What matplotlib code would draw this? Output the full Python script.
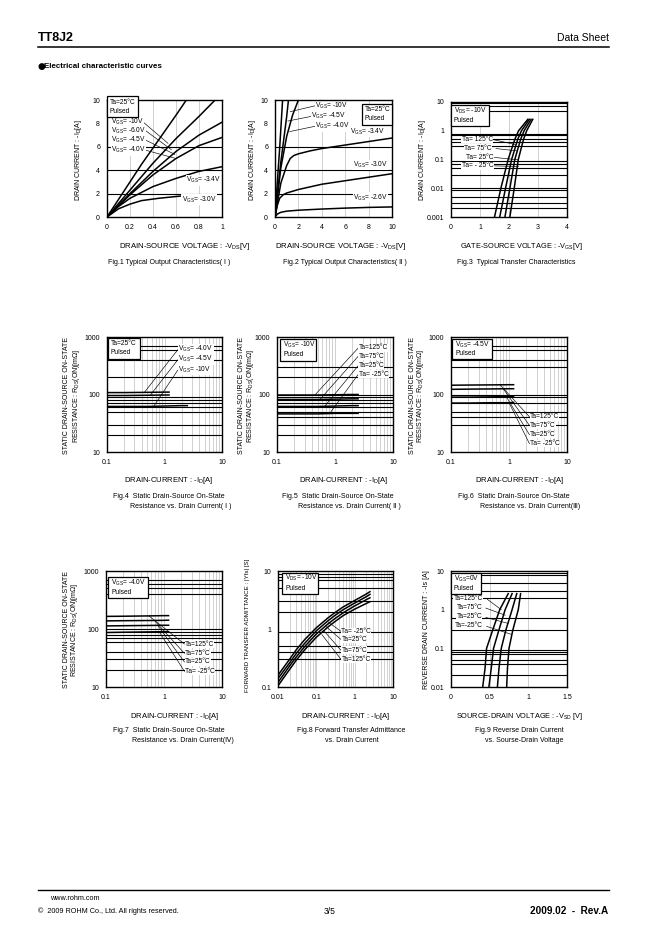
import matplotlib
matplotlib.use('Agg')
import matplotlib.pyplot as plt
from matplotlib.patches import Rectangle

plt.rcParams['font.family'] = ['Liberation Sans', 'DejaVu Sans']
plt.rcParams['mathtext.fontset'] = 'custom'
plt.rcParams['mathtext.rm'] = 'Liberation Sans'
plt.rcParams['mathtext.it'] = 'Liberation Sans:italic'
plt.rcParams['mathtext.bf'] = 'Liberation Sans:bold'
plt.rcParams['mathtext.default'] = 'regular'

# ------------------------------------------------------------------ data
# Fig.1  Typical output characteristics (I): -VDS [V] -> -ID [A]
f1_vgs_labels = ["-10V", "-6.0V", "-4.5V", "-4.0V", "-3.4V", "-3.0V"]
f1_x = [
    [0, 0.1, 0.2, 0.3, 0.4, 0.5, 0.6, 0.69],
    [0, 0.2, 0.4, 0.6, 0.8, 0.94],
    [0, 0.2, 0.4, 0.6, 0.8, 1.0],
    [0, 0.2, 0.4, 0.6, 0.8, 1.0],
    [0, 0.1, 0.2, 0.4, 0.6, 0.8, 1.0],
    [0, 0.1, 0.2, 0.3, 0.45, 0.65],
]
f1_y = [
    [0, 1.5, 3.0, 4.5, 5.9, 7.3, 8.7, 10.0],
    [0, 2.3, 4.6, 6.7, 8.6, 10.0],
    [0, 2.0, 3.9, 5.6, 7.0, 8.1],
    [0, 1.9, 3.6, 5.0, 6.1, 6.8],
    [0, 0.9, 1.6, 2.6, 3.3, 3.9, 4.3],
    [0, 0.7, 1.1, 1.4, 1.6, 1.8],
]

# Fig.2  Typical output characteristics (II)
f2_vgs_labels = ["-10V", "-4.5V", "-4.0V", "-3.4V", "-3.0V", "-2.6V"]
f2_x = [
    [0, 0.2, 0.4, 0.65],
    [0, 0.5, 1.0, 1.15],
    [0, 0.5, 1.0, 1.5, 2.0],
    [0, 0.5, 1.0, 1.3, 1.6, 2, 3, 4, 6, 8, 10],
    [0, 0.2, 0.4, 0.7, 1, 2, 4, 6, 8, 10],
    [0, 0.2, 0.5, 1, 2, 4, 6, 8, 10],
]
f2_y = [
    [0, 3.0, 5.9, 10.0],
    [0, 4.7, 8.6, 10.0],
    [0, 4.2, 6.9, 8.7, 10.0],
    [0, 2.9, 4.4, 5.0, 5.25, 5.4, 5.65, 5.85, 6.15, 6.45, 6.75],
    [0, 1.0, 1.6, 1.9, 2.05, 2.35, 2.8, 3.1, 3.4, 3.7],
    [0, 0.25, 0.4, 0.5, 0.58, 0.68, 0.76, 0.82, 0.86],
]

# Fig.3  Typical transfer characteristics: -VGS [V] vs -ID [A]
f3_ta = ["125°C", "75°C", "25°C", "- 25°C"]
f3_id = [0.001, 0.01, 0.1, 0.5, 1.0, 2.5]
f3_vgs = [
    [1.50, 1.72, 1.97, 2.20, 2.33, 2.65],
    [1.68, 1.88, 2.09, 2.30, 2.43, 2.70],
    [1.86, 2.03, 2.20, 2.40, 2.52, 2.76],
    [2.03, 2.18, 2.32, 2.50, 2.61, 2.82],
]

# Fig.4  RDS(on) vs ID, Ta=25°C, various VGS
f4_vgs_labels = ["-4.0V", "-4.5V", "-10V"]
f4_x = [
    [0.1, 0.2, 0.5, 1.0, 1.2],
    [0.1, 0.2, 0.5, 1.0, 1.2],
    [0.1, 0.2, 0.5, 1.0, 2.0, 2.5],
]
f4_y = [
    [108, 108, 109, 110, 110],
    [96, 96, 97, 98, 98],
    [62, 62, 62, 63, 64, 64],
]

# Fig.5  RDS(on) vs ID, VGS=-10V
f5_ta = ["125°C", "75°C", "25°C", " -25°C"]
f5_x = [0.1, 0.2, 0.5, 1.0, 2.0, 2.5]
f5_y = [
    [98, 98, 98, 99, 100, 100],
    [82, 82, 82, 83, 84, 84],
    [62, 62, 62, 63, 64, 64],
    [46, 46, 46, 47, 47, 47],
]

# Fig.6  RDS(on) vs ID, VGS=-4.5V
f6_ta = ["125°C", "75°C", "25°C", " -25°C"]
f6_x = [0.1, 0.2, 0.5, 1.0, 1.2]
f6_y = [
    [145, 146, 147, 148, 148],
    [123, 124, 125, 126, 126],
    [90, 90, 91, 92, 92],
    [71, 71, 72, 72, 73],
]

# Fig.7  RDS(on) vs ID, VGS=-4.0V
f7_ta = ["125°C", "75°C", "25°C", " -25°C"]
f7_x = [0.1, 0.2, 0.5, 1.0, 1.2]
f7_y = [
    [165, 166, 168, 170, 170],
    [138, 139, 140, 141, 142],
    [113, 114, 115, 116, 116],
    [87, 88, 89, 90, 90],
]

# Fig.8  |Yfs| vs ID
f8_ta = [" -25°C", "25°C", "75°C", "125°C"]
f8_x = [0.01, 0.02, 0.03, 0.05, 0.1, 0.2, 0.3, 0.5, 1.0, 2.0, 2.5]
f8_y = [
    [0.16, 0.30, 0.44, 0.66, 1.05, 1.55, 1.90, 2.40, 3.10, 4.00, 4.40],
    [0.14, 0.26, 0.38, 0.57, 0.93, 1.38, 1.70, 2.15, 2.80, 3.60, 3.95],
    [0.12, 0.23, 0.33, 0.50, 0.82, 1.22, 1.50, 1.90, 2.50, 3.20, 3.45],
    [0.105, 0.20, 0.29, 0.44, 0.72, 1.08, 1.33, 1.70, 2.20, 2.75, 2.95],
]

# Fig.9  Reverse drain current vs -VSD
f9_ta = ["125°C", "75°C", "25°C", "-25°C"]
f9_is = [0.01, 0.03, 0.1, 0.3, 1.0, 2.6]
f9_vsd = [
    [0.41, 0.44, 0.46, 0.54, 0.63, 0.74],
    [0.49, 0.52, 0.55, 0.62, 0.70, 0.79],
    [0.60, 0.62, 0.65, 0.71, 0.79, 0.85],
    [0.72, 0.73, 0.75, 0.80, 0.87, 0.90],
]

# tick labels
lin1_xt = [0, 0.2, 0.4, 0.6, 0.8, 1.0]
lin1_xl = ["0", "0.2", "0.4", "0.6", "0.8", "1"]
lin10_t = [0, 2, 4, 6, 8, 10]
lin10_l = ["0", "2", "4", "6", "8", "10"]
f3_xt = [0, 1, 2, 3, 4]
f3_xl = ["0", "1", "2", "3", "4"]
f3_yt = [0.001, 0.01, 0.1, 1, 10]
f3_yl = ["0.001", "0.01", "0.1", "1", "10"]
r_xt = [0.1, 1, 10]
r_xl = ["0.1", "1", "10"]
r_yt = [10, 100, 1000]
r_yl = ["10", "100", "1000"]
f8_xt = [0.01, 0.1, 1, 10]
f8_xl = ["0.01", "0.1", "1", "10"]
f8_yt = [0.1, 1, 10]
f8_yl = ["0.1", "1", "10"]
f9_xt = [0, 0.5, 1, 1.5]
f9_xl = ["0", "0.5", "1", "1.5"]
f9_yt = [0.01, 0.1, 1, 10]
f9_yl = ["0.01", "0.1", "1", "10"]

# ------------------------------------------------------------------ drawing
W, H = 662, 936
fig = plt.figure(figsize=(W / 100, H / 100), dpi=100)
FS = 4.8      # annotation text
TFS = 5.0     # tick labels
LFS = 5.0     # axis labels / captions
LW = 1.1
GRAY = '#c4c4c4'


def logminor(lo, hi):
    out = []
    e = lo
    while 10 ** e < 10 ** hi:
        for k in range(1, 10):
            v = k * 10 ** e
            if 10 ** lo < v < 10 ** hi:
                out.append(v)
        e += 1
    return out


def make_axes(box_px, xscale, yscale, xlim, ylim, xt, xl, yt, yl, hl, vl):
    l, t, r, b = box_px
    ax = fig.add_axes([l / W, 1 - b / H, (r - l) / W, (b - t) / H])
    ax.set_xscale(xscale)
    ax.set_yscale(yscale)
    ax.set_xlim(xlim)
    ax.set_ylim(ylim)
    ax.set_xticks(xt)
    ax.set_xticklabels(xl)
    ax.set_yticks(yt)
    ax.set_yticklabels(yl)
    ax.minorticks_off()
    ax.tick_params(length=0, pad=5, labelsize=TFS)
    for v in vl:
        ax.axvline(v, color=GRAY, lw=0.55, zorder=1)
    for h in hl:
        ax.axhline(h, color='black', lw=0.8, zorder=1)
    for s in ax.spines.values():
        s.set_linewidth(1.0)
        s.set_zorder(7)
    return ax


def note_box(ax, x0, y0, x1, y1, l1, l2):
    ax.add_patch(Rectangle((x0, y0), x1 - x0, y1 - y0, transform=ax.transAxes,
                           fc='white', ec='black', lw=0.9, zorder=8, clip_on=False))
    hgt = y1 - y0
    ax.text(x0 + 0.025, y1 - 0.27 * hgt, l1, transform=ax.transAxes, fontsize=FS,
            va='center', ha='left', zorder=9)
    ax.text(x0 + 0.025, y1 - 0.72 * hgt, l2, transform=ax.transAxes, fontsize=FS,
            va='center', ha='left', zorder=9)


def label(ax, x, y, s, ha='left'):
    ax.text(x, y, s, fontsize=FS, va='center', ha=ha, zorder=6,
            bbox=dict(fc='white', ec='none', pad=0.2))


def leader(ax, p, q):
    ax.plot([p[0], q[0]], [p[1], q[1]], color='black', lw=0.45, zorder=4)


def ftext(x, y, s, **kw):
    fig.text(x / W, 1 - y / H, s, **kw)


def vgs(s):
    return r"V$_{GS}$= " + s


ROW1 = (100, 217)
ROW2 = (337, 452)
ROW3 = (571, 687)

# ---- Fig.1
ax = make_axes((107, ROW1[0], 222, ROW1[1]), 'linear', 'linear', (0, 1), (0, 10),
               lin1_xt, lin1_xl, lin10_t, lin10_l, [2, 4, 6], [0.2, 0.4, 0.6, 0.8])
for xs, ys in zip(f1_x, f1_y):
    ax.plot(xs, ys, color='black', lw=LW, zorder=3, clip_on=True)
for s, (x, y) in zip(f1_vgs_labels[:4], [(0.035, 8.15), (0.035, 7.35), (0.035, 6.55), (0.035, 5.7)]):
    label(ax, x, y, vgs(s))
leader(ax, (0.31, 8.15), (0.53, 6.3))
leader(ax, (0.34, 7.35), (0.56, 5.75))
leader(ax, (0.34, 6.55), (0.59, 5.35))
leader(ax, (0.34, 5.7), (0.60, 5.0))
label(ax, 0.69, 3.15, vgs(f1_vgs_labels[4]))
label(ax, 0.65, 1.5, vgs(f1_vgs_labels[5]))
note_box(ax, 0.0, 0.855, 0.27, 1.03, "Ta=25°C", "Pulsed")

# ---- Fig.2
ax = make_axes((275, ROW1[0], 392, ROW1[1]), 'linear', 'linear', (0, 10), (0, 10),
               lin10_t, lin10_l, lin10_t, lin10_l, [2, 4, 6], [2, 4, 6, 8])
for xs, ys in zip(f2_x, f2_y):
    ax.plot(xs, ys, color='black', lw=LW, zorder=3)
for s, (x, y) in zip(f2_vgs_labels, [(3.45, 9.5), (3.1, 8.6), (3.45, 7.75),
                                     (6.45, 7.3), (6.65, 4.45), (6.65, 1.65)]):
    label(ax, x, y, vgs(s))
leader(ax, (3.4, 9.5), (1.3, 9.0))
leader(ax, (3.1, 8.6), (1.1, 8.2))
leader(ax, (3.4, 7.75), (1.25, 7.3))
note_box(ax, 0.74, 0.79, 1.0, 0.966, "Ta=25°C", "Pulsed")

# ---- Fig.3
ax = make_axes((451, 102, 567, ROW1[1]), 'linear', 'log', (0, 4), (0.001, 10),
               f3_xt, f3_xl, f3_yt, f3_yl,
               [0.002, 0.003, 0.005, 0.009, 0.01, 0.03, 0.05, 0.07, 0.09,
                0.3, 0.4, 0.5, 0.7, 0.8, 5, 7, 9], [1, 2, 3])
for xs in f3_vgs:
    ax.plot(xs, f3_id, color='black', lw=LW, zorder=3)
for s, (x, y) in zip(f3_ta, [(0.37, 0.5), (0.46, 0.25), (0.52, 0.12), (0.37, 0.06)]):
    label(ax, x, y, "Ta= " + s)
leader(ax, (1.5, 0.48), (2.22, 0.33))
leader(ax, (1.55, 0.24), (2.27, 0.2))
leader(ax, (1.5, 0.118), (2.3, 0.098))
leader(ax, (1.5, 0.06), (2.33, 0.057))
note_box(ax, 0.0, 0.787, 0.33, 0.977, r"V$_{DS}$= -10V", "Pulsed")

r_vl = logminor(-1, 1)

# ---- Fig.4
ax = make_axes((107, ROW2[0], 222, ROW2[1]), 'log', 'log', (0.1, 10), (10, 1000),
               r_xt, r_xl, r_yt, r_yl,
               [20, 30, 50, 60, 70, 80, 90, 200, 400, 600, 700], r_vl)
for xs, ys in zip(f4_x, f4_y):
    ax.plot(xs, ys, color='black', lw=LW, zorder=3)
for s, y in zip(f4_vgs_labels, [610, 410, 270]):
    label(ax, 1.75, y, vgs(s))
leader(ax, (1.7, 600), (0.45, 110))
leader(ax, (1.7, 400), (0.57, 98))
leader(ax, (1.7, 265), (0.66, 64))
note_box(ax, 0.007, 0.813, 0.29, 0.991, "Ta=25°C", "Pulsed")

# ---- Fig.5
ax = make_axes((277, ROW2[0], 393, ROW2[1]), 'log', 'log', (0.1, 10), (10, 1000),
               r_xt, r_xl, r_yt, r_yl,
               [20, 30, 40, 50, 60, 70, 80, 90, 100, 200, 300], r_vl)
for ys in f5_y:
    ax.plot(f5_x, ys, color='black', lw=LW, zorder=3)
for s, y in zip(f5_ta, [650, 465, 320, 225]):
    label(ax, 2.55, y, "Ta=" + s)
leader(ax, (2.5, 640), (0.45, 98))
leader(ax, (2.5, 460), (0.55, 82))
leader(ax, (2.5, 315), (0.66, 62))
leader(ax, (2.5, 222), (0.8, 46))
note_box(ax, 0.03, 0.795, 0.34, 0.98, r"V$_{GS}$= -10V", "Pulsed")

# ---- Fig.6
ax = make_axes((451, ROW2[0], 567, ROW2[1]), 'log', 'log', (0.1, 10), (10, 1000),
               r_xt, r_xl, r_yt, r_yl,
               [30, 40, 50, 70, 90, 100, 300, 400, 600, 700], r_vl)
for ys in f6_y:
    ax.plot(f6_x, ys, color='black', lw=LW, zorder=3)
for s, y in zip(f6_ta, [41, 29, 20, 14]):
    label(ax, 2.3, y, "Ta=" + s)
leader(ax, (0.7, 148), (2.25, 41))
leader(ax, (0.8, 125), (2.25, 29))
leader(ax, (0.9, 91), (2.25, 20))
leader(ax, (1.0, 72), (2.25, 14))
note_box(ax, 0.01, 0.81, 0.35, 0.98, r"V$_{GS}$= -4.5V", "Pulsed")

# ---- Fig.7
ax = make_axes((106, ROW3[0], 222, ROW3[1]), 'log', 'log', (0.1, 10), (10, 1000),
               r_xt, r_xl, r_yt, r_yl,
               [20, 30, 40, 60, 70, 80, 90, 100, 400, 500, 600, 700], r_vl)
for ys in f7_y:
    ax.plot(f7_x, ys, color='black', lw=LW, zorder=3)
for s, y in zip(f7_ta, [55, 38, 27, 18.6]):
    label(ax, 2.3, y, "Ta=" + s)
leader(ax, (0.55, 168), (2.25, 55))
leader(ax, (0.68, 141), (2.25, 38))
leader(ax, (0.78, 115), (2.25, 27))
leader(ax, (0.83, 89), (2.25, 18.6))
note_box(ax, 0.02, 0.766, 0.36, 0.946, r"V$_{GS}$= -4.0V", "Pulsed")

# ---- Fig.8
ax = make_axes((278, ROW3[0], 393, ROW3[1]), 'log', 'log', (0.01, 10), (0.1, 10),
               f8_xt, f8_xl, f8_yt, f8_yl,
               [0.3, 0.4, 0.5, 0.9, 2, 3, 5, 7, 8, 9], logminor(-2, 1))
for ys in f8_y:
    ax.plot(f8_x, ys, color='black', lw=LW, zorder=3)
for s, y in zip(f8_ta, [0.91, 0.66, 0.43, 0.30]):
    label(ax, 0.45, y, "Ta=" + s)
leader(ax, (0.44, 0.91), (0.21, 1.3))
leader(ax, (0.44, 0.66), (0.18, 1.1))
leader(ax, (0.44, 0.43), (0.16, 0.92))
leader(ax, (0.44, 0.30), (0.14, 0.8))
note_box(ax, 0.038, 0.80, 0.35, 0.987, r"V$_{DS}$= -10V", "Pulsed")

# ---- Fig.9
ax = make_axes((451, ROW3[0], 567, ROW3[1]), 'linear', 'log', (0, 1.5), (0.01, 10),
               f9_xt, f9_xl, f9_yt, f9_yl,
               [0.02, 0.04, 0.05, 0.07, 0.08, 0.09, 0.3, 0.6, 2, 3, 5, 8, 9],
               [0.5, 1.0])
for xs in f9_vsd:
    ax.plot(xs, f9_is, color='black', lw=LW, zorder=3)
for s, (x, y) in zip(f9_ta, [(0.03, 2.0), (0.07, 1.12), (0.07, 0.66), (0.05, 0.38)]):
    label(ax, x, y, "Ta=" + s)
leader(ax, (0.47, 1.85), (0.65, 1.0))
leader(ax, (0.45, 1.1), (0.70, 0.72))
leader(ax, (0.45, 0.63), (0.74, 0.44))
leader(ax, (0.46, 0.37), (0.78, 0.23))
note_box(ax, 0.0, 0.80, 0.26, 0.985, r"V$_{GS}$=0V", "Pulsed")

# ------------------------------------------------------------------ axis texts
rk = dict(rotation=90, ha='center', va='center', fontsize=LFS)
ftext(78, 160, r"DRAIN CURRENT : -I$_D$[A]", **rk)
ftext(252, 160, r"DRAIN CURRENT : -I$_D$[A]", **rk)
ftext(423, 160, r"DRAIN CURRENT : -I$_D$[A]", **rk)
for (xa, xb, yc) in [(67, 76, 396), (241, 250, 396), (412, 421, 396), (66, 75, 630)]:
    ftext(xa, yc, "STATIC DRAIN-SOURCE ON-STATE", **rk)
    ftext(xb, yc, r"RESISTANCE : R$_{DS}$(ON)[mΩ]", **rk)
ftext(248, 625, "FORWARD TRANSFER ADMITTANCE : |Yfs| [S]", rotation=90, ha='center',
      va='center', fontsize=4.4)
ftext(427, 630, "REVERSE DRAIN CURRENT : -Is [A]", **rk)

xk = dict(ha='center', va='center', fontsize=LFS)
ftext(185, 246, r"DRAIN-SOURCE VOLTAGE : -V$_{DS}$[V]", ha='center', va='center', fontsize=5.6)
ftext(341, 246, r"DRAIN-SOURCE VOLTAGE : -V$_{DS}$[V]", ha='center', va='center', fontsize=5.6)
ftext(521, 246, r"GATE-SOURCE VOLTAGE : -V$_{GS}$[V]", ha='center', va='center', fontsize=5.3)
ftext(169, 481, r"DRAIN-CURRENT : -I$_D$[A]", ha='center', va='center', fontsize=5.5)
ftext(344, 481, r"DRAIN-CURRENT : -I$_D$[A]", ha='center', va='center', fontsize=5.5)
ftext(520, 481, r"DRAIN-CURRENT : -I$_D$[A]", ha='center', va='center', fontsize=5.5)
ftext(175, 716, r"DRAIN-CURRENT : -I$_D$[A]", ha='center', va='center', fontsize=5.5)
ftext(346, 716, r"DRAIN-CURRENT : -I$_D$[A]", ha='center', va='center', fontsize=5.5)
ftext(520, 716, r"SOURCE-DRAIN VOLTAGE : -V$_{SD}$ [V]", ha='center', va='center', fontsize=5.3)

# captions
ftext(169, 263, "Fig.1 Typical Output Characteristics( Ⅰ )", **xk)
ftext(345, 263, "Fig.2 Typical Output Characteristics( Ⅱ )", **xk)
ftext(516, 263, "Fig.3  Typical Transfer Characteristics", **xk)
lk = dict(ha='left', va='center', fontsize=LFS)
ftext(113, 497, "Fig.4  Static Drain-Source On-State", **lk)
ftext(130, 507, "Resistance vs. Drain Current( Ⅰ )", **lk)
ftext(282, 497, "Fig.5  Static Drain-Source On-State", **lk)
ftext(298, 507, "Resistance vs. Drain Current( Ⅱ )", **lk)
ftext(458, 497, "Fig.6  Static Drain-Source On-State", **lk)
ftext(480, 507, "Resistance vs. Drain Current(Ⅲ)", **lk)
ftext(113, 731, "Fig.7  Static Drain-Source On-State", **lk)
ftext(132, 741, "Resistance vs. Drain Current(Ⅳ)", **lk)
ftext(297, 731, "Fig.8 Forward Transfer Admittance", **lk)
ftext(325, 741, "vs. Drain Current", **lk)
ftext(475, 731, "Fig.9 Reverse Drain Current", **lk)
ftext(485, 741, "vs. Sourse-Drain Voltage", **lk)

# ------------------------------------------------------------------ page header / footer
ftext(38, 38, "TT8J2", ha='left', va='center', fontsize=9, fontweight='bold')
ftext(609, 38, "Data Sheet", ha='right', va='center', fontsize=7.5)
fig.add_artist(plt.Line2D([38 / W, 609 / W], [1 - 47 / H, 1 - 47 / H], color='black', lw=1.1))
ftext(37, 66, "●", ha='left', va='center', fontsize=6.5, family=['DejaVu Sans'])
ftext(44, 66, "Electrical characteristic curves", ha='left', va='center', fontsize=5.8,
      fontweight='bold')

fig.add_artist(plt.Line2D([38 / W, 609 / W], [1 - 890 / H, 1 - 890 / H], color='black', lw=1.0))
ftext(50, 899, "www.rohm.com", ha='left', va='center', fontsize=5.2)
ftext(38, 911, "©  2009 ROHM Co., Ltd. All rights reserved.", ha='left', va='center', fontsize=5.2)
ftext(330, 911, "3/5", ha='center', va='center', fontsize=6.2)
ftext(608, 911, "2009.02  -  Rev.A", ha='right', va='center', fontsize=7.2, fontweight='bold')

fig.savefig('out.png', dpi=100)
